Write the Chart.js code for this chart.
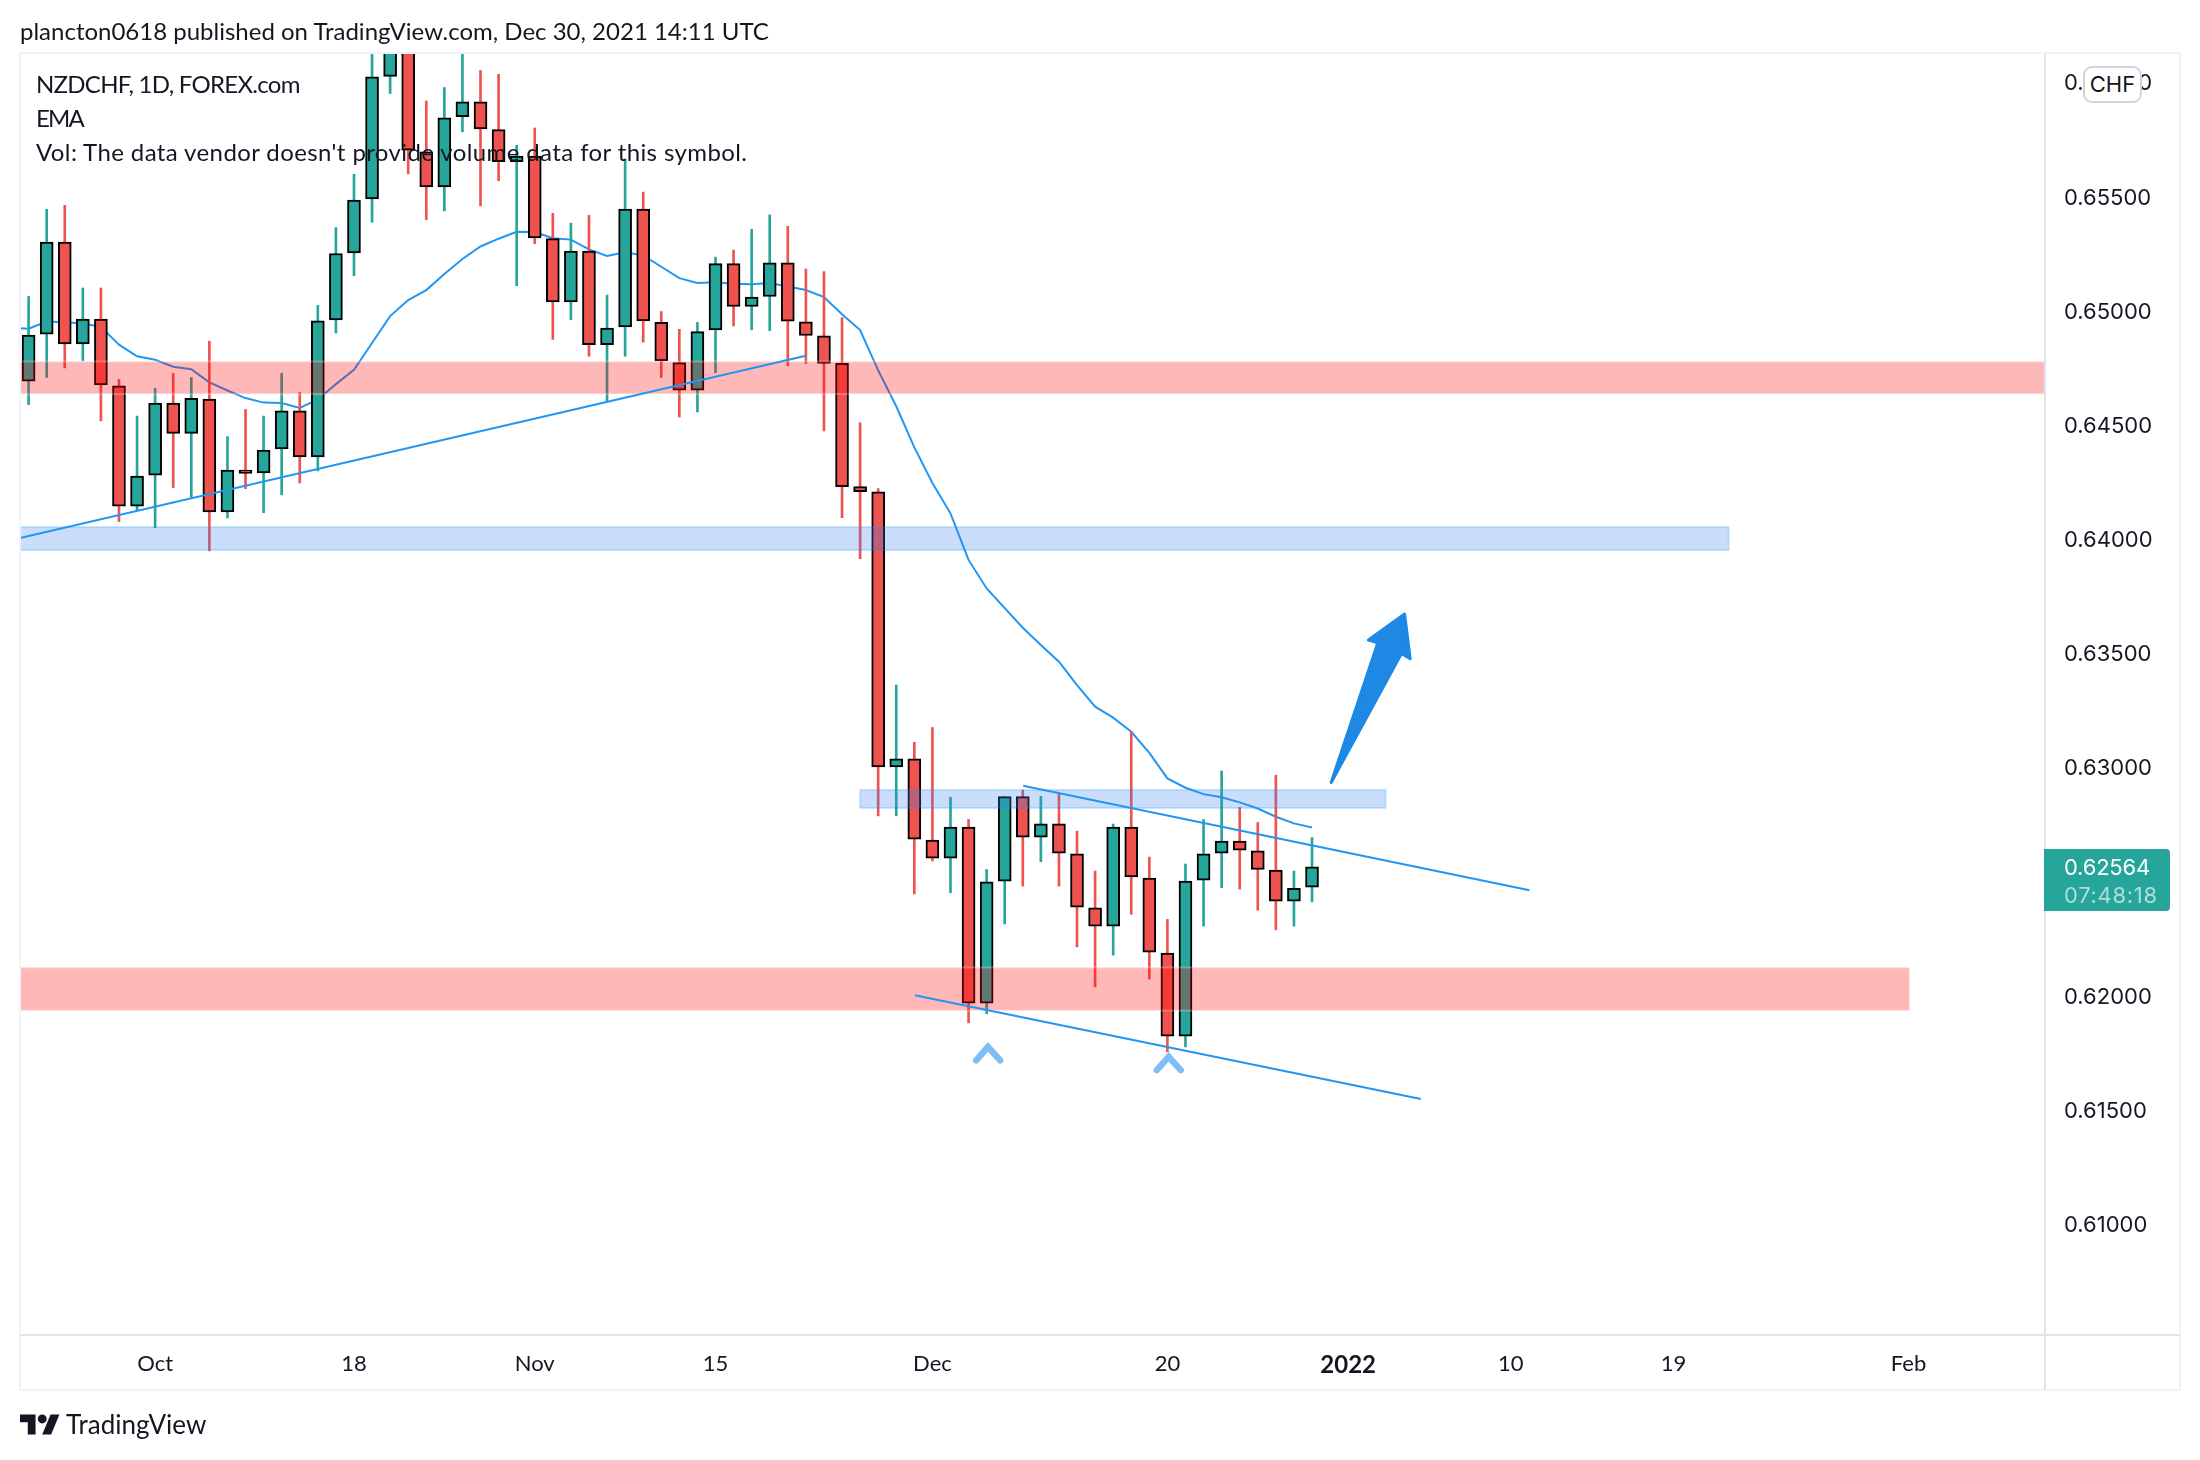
<!DOCTYPE html>
<html><head><meta charset="utf-8">
<script src="https://cdn.jsdelivr.net/npm/chart.js@4/dist/chart.umd.js"></script>
<style>
html,body{margin:0;padding:0;background:#fff;width:2200px;height:1460px;overflow:hidden}
#wrap{position:relative;width:2200px;height:1460px}
canvas{position:absolute;left:0;top:0}
.t{position:absolute;white-space:nowrap;color:#131722;font-family:Lato,sans-serif;font-size:24px;line-height:30px}
</style></head><body>
<div id="wrap">
<canvas id="c" width="2200" height="1460"></canvas>
<div class="t" style="left:20px;top:16px">plancton0618 published on TradingView.com, Dec 30, 2021 14:11 UTC</div>
<div class="t" style="left:36px;top:69px;letter-spacing:-.72px">NZDCHF, 1D, FOREX.com</div>
<div class="t" style="left:36px;top:103px;letter-spacing:-1.8px">EMA</div>
<div class="t" style="left:36px;top:137px;letter-spacing:.39px">Vol: The data vendor doesn't provide volume data for this symbol.</div>
<div style="position:absolute;left:2083px;top:66px;width:55px;height:33px;border:2px solid #d1d4dc;border-radius:9px;background:#fff;text-align:center;font:22px/33px Inter,sans-serif;color:#131722">CHF</div>
<div style="position:absolute;left:2044px;top:849px;width:126px;height:62px;background:#26a69a;border-radius:0 4px 4px 0"></div>
<div style="position:absolute;left:2064px;top:852px;font:22px/30px Inter,sans-serif;letter-spacing:-.2px;color:#fff">0.62564</div>
<div style="position:absolute;left:2064px;top:880px;font:22px/30px Inter,sans-serif;letter-spacing:.7px;color:rgba(255,255,255,.62)">07:48:18</div>
<svg style="position:absolute;left:20px;top:1414px" width="40" height="21" viewBox="0 4 36 18"><path fill="#131722" d="M14 22H7V11H0V4h14v18zM28 22h-8l7.5-18h8L28 22z"/><circle fill="#131722" cx="20" cy="8" r="4"/></svg>
<div class="t" style="left:66px;top:1409px;font-size:26px">TradingView</div>
</div>
<script>
const opens =[.64691,.64897,.653,.64854,.64963,.64671,.64143,.64279,.64595,.64462,.64613,.64118,.64301,.64289,.64394,.64561,.64359,.64959,.65253,.65489,.66026,.6628,.65696,.65542,.65849,.65915,.65793,.65652,.65677,.65315,.65038,.65261,.64851,.64929,.65445,.64949,.64772,.64652,.64915,.65206,.65018,.65062,.65209,.64951,.6489,.64769,.64229,.64206,.63001,.63037,.62681,.62602,.62738,.61966,.62501,.62871,.62694,.62752,.62621,.62384,.62304,.62738,.62514,.62186,.61822,.62505,.62624,.62676,.62634,.62549,.62413,.62475];
const highs =[.65062,.65444,.65461,.65099,.65099,.64699,.64538,.6466,.64725,.64707,.64866,.64448,.64567,.64538,.64725,.64642,.65023,.65364,.65597,.6625,.6635,.664,.65918,.65977,.6625,.66052,.66035,.65724,.658,.65426,.65383,.65417,.65068,.65664,.65519,.64996,.64918,.64948,.65234,.65265,.65356,.65419,.65369,.65182,.65171,.64969,.64509,.64221,.6336,.63109,.63174,.62868,.62771,.62552,.62871,.629,.62873,.62885,.6272,.62545,.62751,.63155,.62606,.62333,.62576,.62771,.62983,.62824,.62758,.62965,.62545,.62692];
const lows  =[.64588,.64707,.64749,.6478,.64517,.64076,.64123,.64049,.64225,.64181,.63948,.64092,.6422,.64115,.64193,.64245,.64298,.64902,.65153,.65387,.65951,.65599,.65398,.65437,.65783,.65459,.65569,.65109,.65293,.64874,.6496,.648,.646,.648,.64862,.64707,.64534,.64556,.64728,.64933,.64916,.64912,.64758,.64768,.64473,.64093,.63913,.62787,.62787,.62445,.6259,.6245,.6188,.6192,.62313,.62479,.62586,.62479,.62213,.62038,.62177,.62356,.62072,.61753,.61775,.62304,.62472,.62466,.62374,.62288,.62304,.6241];
const closes=[.64893,.653,.64854,.64963,.64674,.64143,.64275,.64595,.64462,.64616,.64118,.64301,.64287,.64389,.64561,.64359,.64955,.6525,.65484,.66024,.6625,.65703,.65542,.65844,.65915,.65796,.65652,.65677,.65318,.65038,.65261,.64851,.64924,.65445,.64955,.6478,.64652,.64908,.65206,.65018,.65059,.65209,.64954,.64891,.64769,.64229,.64207,.63001,.63037,.62685,.62602,.62738,.61966,.62498,.62871,.62694,.62752,.62624,.62387,.62304,.62738,.62519,.6219,.61822,.62501,.62621,.62676,.62637,.62552,.62413,.6247,.62564];
// EMA values start one bar before the first visible candle
const emaValues=[.64925,.64921,.64952,.64949,.64944,.64929,.64851,.648,.64785,.64754,.64743,.64686,.6465,.64617,.64597,.64595,.64574,.64611,.64678,.64741,.64858,.64976,.65046,.6509,.6516,.65226,.65281,.65315,.65345,.65344,.65317,.65311,.65268,.65239,.65256,.65242,.65192,.65142,.65121,.65124,.65118,.65115,.65121,.65106,.6509,.65059,.64984,.64915,.64738,.64581,.64401,.64245,.64112,.63908,.63783,.63697,.63611,.63535,.63462,.6336,.63265,.63217,.63155,.63063,.62951,.6291,.62882,.62868,.62846,.62819,.62783,.62754,.62736];
const xTickValues=[7,18,28,38,50,63,73,82,91,104];
const xTickLabels=['Oct','18','Nov','15','Dec','20','2022','10','19','Feb'];
const yTickValues=[.61,.615,.62,.625,.63,.635,.64,.645,.65,.655,.66];
const xMin=-0.476, xMax=111.55, yMin=.60513, yMax=.66124;
// zones: [startBar, endBar, lowPrice, highPrice]
const pinkZones=[[xMin,xMax,.64635,.64777],[xMin,104.06,.61934,.62123]];
const blueZones=[[xMin,94.05,.63951,.64052],[46,75.07,.62821,.62901]];
// trend lines: [bar, price, bar, price]
const trendLines=[[xMin,.64004,43,.64802],[55.02,.62919,83.03,.62461],[49.03,.62001,77.02,.61547]];
const arrowBars=[72.06,74.64,74.12,76.12,76.43,75.95];
const arrowPrices=[.62933,.63545,.63557,.63671,.63475,.63498];
const chevronBars=[[52.42,53.07,53.75],[62.41,63.07,63.74]];
const chevronPrices=[[.61716,.61775,.61716],[.61673,.61731,.61673]];

const UP='#26a69a',DOWN='#ef5350';
const barColors=closes.map((c,i)=>c>=opens[i]?UP:DOWN);
const wicks=highs.map((h,i)=>({x:i,y:[lows[i],h]}));
const bodies=opens.map((o,i)=>({x:i,y:[Math.min(o,closes[i]),Math.max(o,closes[i])]}));

const zonePlugin={id:'zones',
 afterDatasetDraw(chart,args){
  if(args.meta.label!=='Bodies')return;
  const {ctx,chartArea:a,scales:{x,y}}=chart;
  ctx.save();ctx.beginPath();ctx.rect(a.left,a.top,a.right-a.left,a.bottom-a.top);ctx.clip();
  const rect=(z,fill,stroke)=>{
    const l=x.getPixelForValue(z[0]),r=x.getPixelForValue(z[1]),t=y.getPixelForValue(z[3]),b=y.getPixelForValue(z[2]);
    ctx.fillStyle=fill;ctx.fillRect(l,t,r-l,b-t);
    ctx.strokeStyle=stroke;ctx.lineWidth=2;ctx.strokeRect(l,t,r-l,b-t);
  };
  pinkZones.forEach(z=>rect(z,'rgba(255,0,0,0.28)','rgba(255,255,255,0.25)'));
  blueZones.forEach(z=>rect(z,'rgba(60,130,235,0.27)','rgba(33,150,243,0.22)'));
  ctx.restore();
 },
 afterDatasetsDraw(chart){
  const {ctx,scales:{x,y}}=chart;
  ctx.save();
  ctx.fillStyle='#1e88e5';ctx.strokeStyle='#1e88e5';ctx.lineWidth=3;ctx.lineJoin='round';
  ctx.beginPath();
  arrowBars.forEach((b,i)=>{const px=x.getPixelForValue(b),py=y.getPixelForValue(arrowPrices[i]);i?ctx.lineTo(px,py):ctx.moveTo(px,py);});
  ctx.closePath();ctx.fill();ctx.stroke();
  ctx.strokeStyle='#7fbdf6';ctx.lineWidth=6.5;ctx.lineCap='round';ctx.lineJoin='miter';
  chevronBars.forEach((bs,k)=>{ctx.beginPath();bs.forEach((b,i)=>{const px=x.getPixelForValue(b),py=y.getPixelForValue(chevronPrices[k][i]);i?ctx.lineTo(px,py):ctx.moveTo(px,py);});ctx.stroke();});
  ctx.restore();
 },
 afterDraw(chart){
  const {ctx,chartArea:a}=chart;
  ctx.save();
  ctx.strokeStyle='#f0f3fa';ctx.lineWidth=2;ctx.strokeRect(a.left,a.top-1,2180-a.left,1390-a.top+1);
  ctx.strokeStyle='#e0e3eb';ctx.beginPath();
  ctx.moveTo(a.right,a.top);ctx.lineTo(a.right,1390);ctx.moveTo(a.left,a.bottom);ctx.lineTo(2180,a.bottom);ctx.stroke();
  ctx.restore();
 }
};
const trendSets=trendLines.map((t,i)=>({type:'line',label:'Trend '+(i+1),data:[{x:t[0],y:t[1]},{x:t[2],y:t[3]}],borderColor:'#2196f3',borderWidth:2,pointRadius:0,order:2}));
new Chart(document.getElementById('c'),{
 type:'bar',
 data:{datasets:[
  {type:'line',label:'EMA',data:emaValues.map((v,i)=>({x:i-1,y:v})),borderColor:'#2196f3',borderWidth:2,pointRadius:0,tension:0,order:6},
  {label:'Wicks',data:wicks,backgroundColor:barColors,borderWidth:0,barThickness:2,grouped:false,order:5},
  {label:'Bodies',data:bodies,backgroundColor:barColors,borderColor:'#000',borderWidth:2,borderSkipped:false,barThickness:13,grouped:false,order:4},
  ...trendSets
 ]},
 plugins:[zonePlugin],
 options:{
  responsive:false,animation:false,devicePixelRatio:1,
  layout:{padding:{left:20,top:54,right:20,bottom:70}},
  plugins:{legend:{display:false},tooltip:{enabled:false}},
  scales:{
   x:{type:'linear',offset:false,min:xMin,max:xMax,grid:{display:false},border:{display:false},
    afterBuildTicks(s){s.ticks=xTickValues.map(v=>({value:v}));},
    afterFit(s){s.height=55;},
    ticks:{autoSkip:false,maxRotation:0,padding:8,color:'#131722',
      font:c=>({family:'Lato,sans-serif',size:c.tick&&c.tick.value===73?24:22,weight:c.tick&&c.tick.value===73?'bold':'normal'}),
      callback:v=>xTickLabels[xTickValues.indexOf(v)]}},
   y:{type:'linear',position:'right',min:yMin,max:yMax,grid:{display:false},border:{display:false},
    afterBuildTicks(s){s.ticks=yTickValues.map(v=>({value:v}));},
    afterFit(s){s.width=135;},
    ticks:{padding:11,labelOffset:1.5,color:'#131722',font:{family:'Inter,sans-serif',size:22},callback:v=>v.toFixed(5)}}
  }
 }
});
</script>
</body></html>
